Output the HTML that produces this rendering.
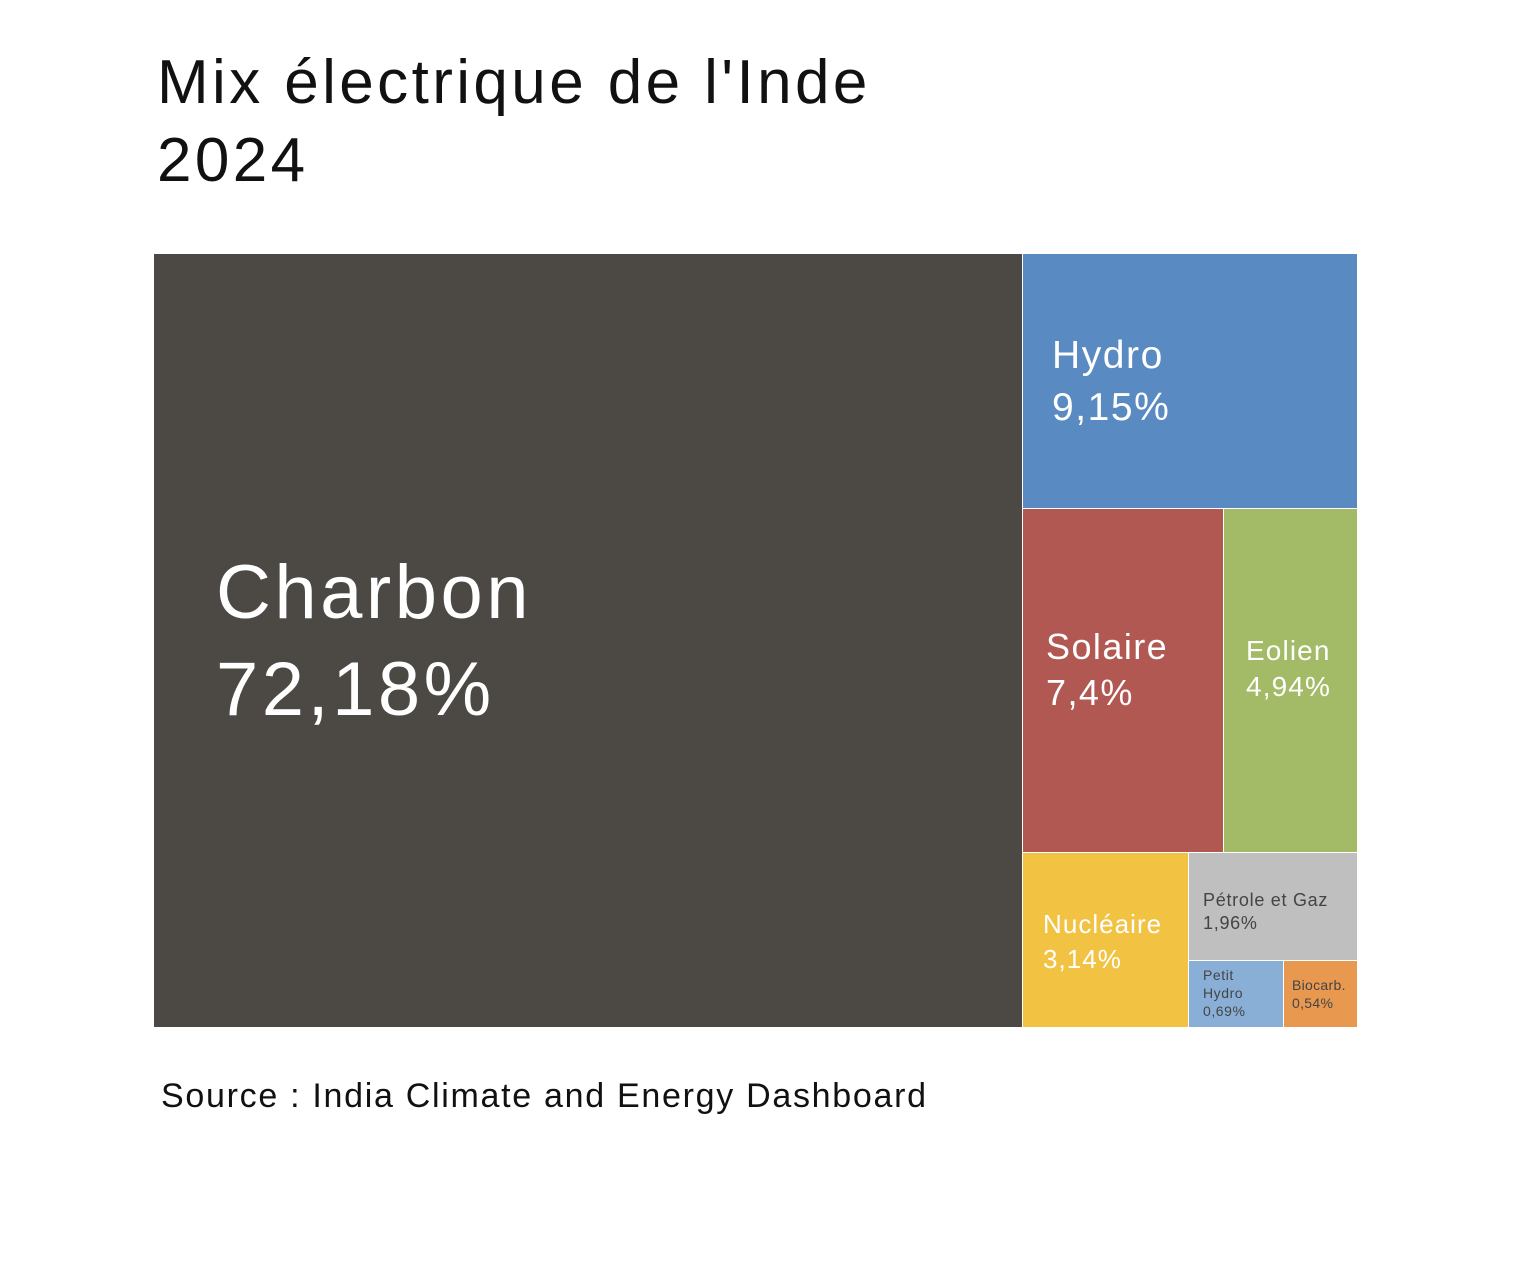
<!DOCTYPE html>
<html><head><meta charset="utf-8"><style>
body{margin:0;width:1520px;height:1288px;background:#fff;position:relative;font-family:"Liberation Sans",sans-serif;overflow:hidden}
.t{position:absolute;left:157px;font-size:62px;line-height:78px;color:#111;letter-spacing:3.4px}
.b{position:absolute;box-sizing:border-box}
.l{position:absolute;color:#fff;white-space:nowrap;letter-spacing:0.04em}
.d{color:#444}
</style></head><body>
<div class="t" style="top:44px">Mix électrique de l'Inde<br>2024</div>
<div class="b" style="left:154px;top:254px;width:868px;height:773px;background:#4c4945"></div>
<div class="l" style="left:216px;top:544px;font-size:76px;line-height:97px;letter-spacing:3.5px">Charbon<br>72,18%</div>
<div class="b" style="left:1023px;top:254px;width:334px;height:254px;background:#598ac2"></div>
<div class="l" style="left:1052px;top:330px;font-size:39px;line-height:52px">Hydro<br>9,15%</div>
<div class="b" style="left:1023px;top:509px;width:200px;height:343px;background:#b25852"></div>
<div class="l" style="left:1046px;top:624px;font-size:36px;line-height:46px">Solaire<br>7,4%</div>
<div class="b" style="left:1224px;top:509px;width:133px;height:343px;background:#a3ba66"></div>
<div class="l" style="left:1246px;top:633px;font-size:28px;line-height:36px">Eolien<br>4,94%</div>
<div class="b" style="left:1023px;top:853px;width:165px;height:174px;background:#f2c243"></div>
<div class="l" style="left:1043px;top:907px;font-size:26px;line-height:35px">Nucléaire<br>3,14%</div>
<div class="b" style="left:1189px;top:853px;width:168px;height:107px;background:#bfbfbf"></div>
<div class="l d" style="left:1203px;top:889px;font-size:18px;line-height:23px">Pétrole et Gaz<br>1,96%</div>
<div class="b" style="left:1189px;top:961px;width:94px;height:66px;background:#8aafd6"></div>
<div class="l d" style="left:1203px;top:966px;font-size:14px;line-height:18px">Petit<br>Hydro<br>0,69%</div>
<div class="b" style="left:1284px;top:961px;width:73px;height:66px;background:#e9994f"></div>
<div class="l d" style="left:1292px;top:976px;font-size:14px;line-height:18px;letter-spacing:0.3px">Biocarb.<br>0,54%</div>
<div class="l" style="left:161px;top:1074px;font-size:34px;line-height:44px;color:#111;letter-spacing:1.7px">Source : India Climate and Energy Dashboard</div>
</body></html>
